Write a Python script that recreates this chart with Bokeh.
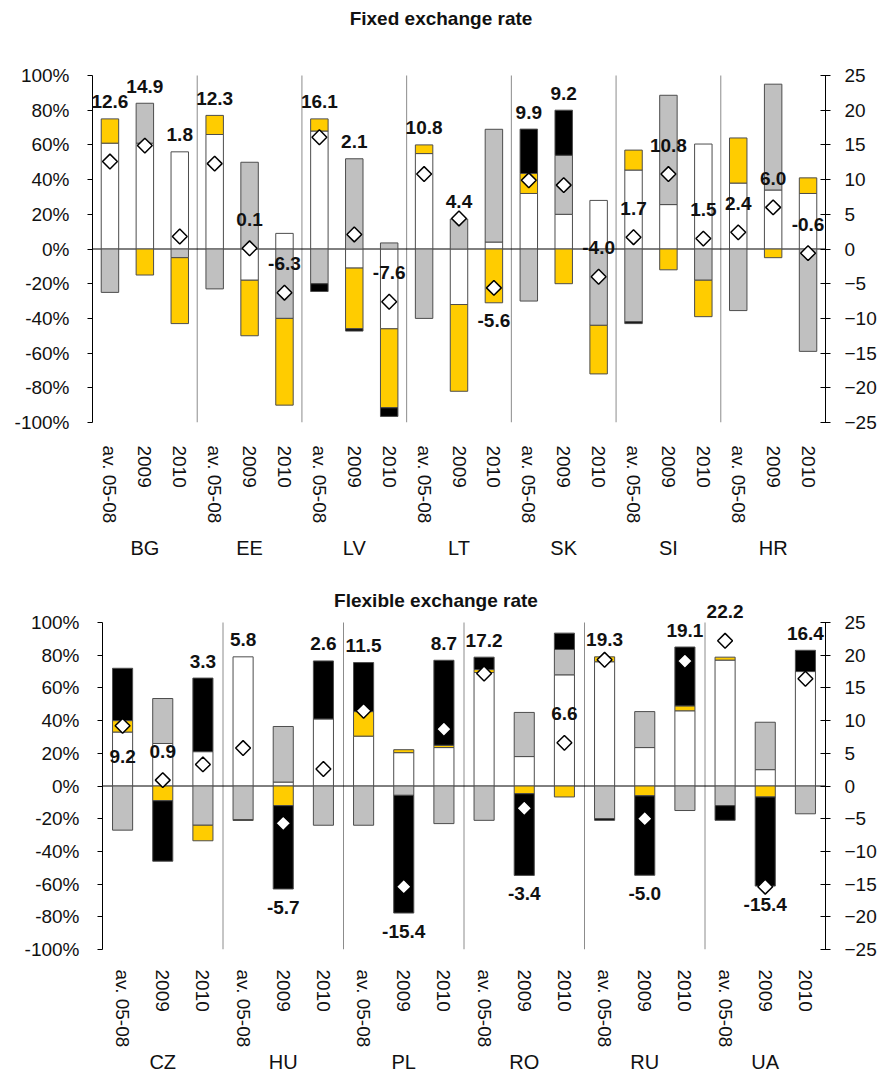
import numpy as np
from bokeh.plotting import figure
from bokeh.models import (ColumnDataSource, Range1d, LinearAxis, FixedTicker,
                          NumeralTickFormatter, Span, LabelSet, Label)
from bokeh.core.properties import value
from bokeh.layouts import column
from bokeh.embed import file_html
from bokeh.resources import INLINE

# ---------------------------------------------------------------- data
periods = ["av. 05-08", "2009", "2010"]

# Fixed exchange rate regimes (contributions in % of the total, stacked)
fixed_countries = ["BG", "EE", "LV", "LT", "SK", "SI", "HR"]
fixed_white = [61, 61, 56, 66, -18, 9, 68, -11, -46, 55, -32, 4, 32, 20, 28,
               45.5, 25.6, 60.5, 38, 34, 32]
fixed_grey = [-25, 23, -5, -23, 50, -40, -20, 52, 3.5, -40, 17.3, 65, -30, 34, -44,
              -42, 63, -18, -35.5, 61, -59]
fixed_yellow = [14, -15, -38, 11, -32, -50, 7, -35, -45.5, 5, -50, -31, 11.5, -20, -28,
                11.5, -12, -21, 26, -5, 9]
fixed_black = [0, 0, 0, 0, 0, 0, -4.5, -1.3, -5, 0, 0, 0, 25.6, 26, 0,
               -1, 0, 0, 0, 0, 0]
fixed_balance = [12.6, 14.9, 1.8, 12.3, 0.1, -6.3, 16.1, 2.1, -7.6, 10.8, 4.4, -5.6,
                 9.9, 9.2, -4.0, 1.7, 10.8, 1.5, 2.4, 6.0, -0.6]
fixed_label_at = ["top", "top", "top", "top", "dia", "dia", "top", "top", "dia",
                  "top", "top", "bottom", "top", "top", "dia", "dia", "dia", "dia",
                  "dia", "dia", "dia"]

# Flexible exchange rate regimes
flex_countries = ["CZ", "HU", "PL", "RO", "RU", "UA"]
flex_white = [33, 26, 21, 79, 2.4, 41, 30.5, 20.4, 23.5, 69.4, 18, 68, 76, 23.5, 46,
              77, 10, 70]
flex_grey = [-27, 27.5, -24, -20.5, 34, -24, -24, -5.7, -23, -21, 27, 15.5, -20, 22, -15,
             -12, 29, -17]
flex_yellow = [7, -9, -9.5, -0.6, -12, 0, 15, 1.8, 1.4, 1.8, -4.7, -6.7, 3, -6, 3,
               1.8, -6.7, 0]
flex_black = [32, -37, 45, 0, -51, 35.5, 30, -72, 52, 7.6, -50, 10, -1, -48.6, 36,
              -9, -54.5, 13]
flex_balance = [9.2, 0.9, 3.3, 5.8, -5.7, 2.6, 11.5, -15.4, 8.7, 17.2, -3.4, 6.6,
                19.3, -5.0, 19.1, 22.2, -15.4, 16.4]
flex_label_at = ["dia_below", "dia", "top", "top", "bottom", "top", "top", "bottom", "top",
                 "top", "bottom", "dia", "top", "bottom", "top", "dia", "bottom", "top"]

# ---------------------------------------------------------------- styling
FONT = "Liberation Sans"
TEXT = "#111111"
SERIES_COLORS = ["#FFFFFF", "#C0C0C0", "#FFCC00", "#000000"]
# pixel shift of a value label from its anchor (positive = up)
LABEL_SHIFT = {"top": 17, "bottom": -18, "dia": 29, "dia_below": -31}


def style_ticks(axis):
    axis.minor_tick_line_color = None
    axis.axis_line_color = "black"
    axis.major_tick_line_color = "black"
    axis.major_label_text_font = FONT
    axis.major_label_text_font_size = "19px"
    axis.major_label_text_color = TEXT


def panel(title, countries, parts, balance, label_at, plot_w, plot_h, headroom, borders,
          title_shift, period_standoff, country_standoff):
    n = len(countries) * len(periods)
    centers = np.arange(n) + 0.5
    group_centers = np.arange(len(countries)) * 3 + 1.5
    left, right, top, bottom = borders
    # the frame reaches above 100% so that the heading and high labels fit inside it
    y_top = 1 + 2.0 * headroom / plot_h

    p = figure(frame_width=plot_w, frame_height=plot_h + headroom,
               x_range=Range1d(0, n), y_range=Range1d(-1, y_top),
               output_backend="svg", toolbar_location=None,
               min_border_left=left, min_border_right=right,
               min_border_top=top, min_border_bottom=bottom)
    p.frame_align = False
    p.outline_line_color = None
    p.xgrid.grid_line_color = None
    p.ygrid.grid_line_color = None
    p.background_fill_color = "white"
    p.border_fill_color = "white"

    # group separators and zero line
    seps = [3.0 * k for k in range(1, len(countries))]
    p.segment(x0=seps, x1=seps, y0=[-1] * len(seps), y1=[1] * len(seps),
              line_color="#8c8c8c", line_width=1, level="underlay")
    p.add_layout(Span(location=0, dimension="width", line_color="black",
                      line_width=1, level="underlay"))

    # stacked bars: positives build upward, negatives downward, same series order
    pos = np.zeros(n)
    neg = np.zeros(n)
    for vals, color in zip(parts, SERIES_COLORS):
        v = np.asarray(vals, dtype=float) / 100.0
        base = np.where(v >= 0, pos, neg)
        end = base + v
        pos = np.where(v >= 0, end, pos)
        neg = np.where(v < 0, end, neg)
        keep = v != 0
        src = ColumnDataSource(dict(x=centers[keep], bottom=base[keep], top=end[keep]))
        p.vbar(x="x", bottom="bottom", top="top", width=0.5, source=src,
               fill_color=color, line_color="#4d4d4d", line_width=1)

    # balance (right axis) diamonds
    p.extra_y_ranges = {"bal": Range1d(-25, 25 * y_top)}
    dsrc = ColumnDataSource(dict(x=centers, y=balance))
    p.scatter(x="x", y="y", source=dsrc, y_range_name="bal", marker="square",
              angle=np.pi / 4, size=10.5, fill_color="white", line_color="black",
              line_width=1.5)

    # value labels
    bal_frac = np.asarray(balance) / 25.0
    ly, yoff = [], []
    for i, mode in enumerate(label_at):
        if mode == "top":
            ly.append(pos[i])
        elif mode == "bottom":
            ly.append(neg[i])
        else:
            ly.append(bal_frac[i])
        yoff.append(LABEL_SHIFT[mode])
    lsrc = ColumnDataSource(dict(x=centers, y=ly, yoff=yoff,
                                 txt=[f"{b:.1f}" for b in balance]))
    p.add_layout(LabelSet(x="x", y="y", text="txt", y_offset="yoff", source=lsrc,
                          text_align="center", text_baseline="middle",
                          text_font=value(FONT), text_font_size=value("19px"),
                          text_font_style="bold", text_color=TEXT))

    # panel heading
    p.add_layout(Label(x=n / 2, y=1, x_offset=title_shift[0], y_offset=title_shift[1],
                       text=title, text_align="center", text_baseline="middle",
                       text_font=FONT, text_font_size="19px", text_font_style="bold",
                       text_color=TEXT))

    # period labels (rotated) and country labels below them
    xa = p.xaxis[0]
    xa.ticker = FixedTicker(ticks=list(centers))
    xa.major_label_overrides = {float(c): periods[i % 3] for i, c in enumerate(centers)}
    xa.axis_line_color = None
    xa.major_tick_line_color = None
    xa.minor_tick_line_color = None
    xa.major_tick_out = 0
    xa.major_label_orientation = "vertical"
    xa.major_label_standoff = period_standoff
    xa.major_label_text_font = FONT
    xa.major_label_text_font_size = "19px"
    xa.major_label_text_color = TEXT

    ca = LinearAxis(ticker=FixedTicker(ticks=list(group_centers)))
    ca.major_label_overrides = {float(c): name for c, name in zip(group_centers, countries)}
    ca.axis_line_color = None
    ca.major_tick_line_color = None
    ca.minor_tick_line_color = None
    ca.major_tick_out = 0
    ca.major_tick_in = 0
    ca.major_label_standoff = country_standoff
    ca.major_label_text_font = FONT
    ca.major_label_text_font_size = "20px"
    ca.major_label_text_color = TEXT
    p.add_layout(ca, "below")

    ya = p.yaxis[0]
    ya.ticker = FixedTicker(ticks=[i / 5 for i in range(-5, 6)])
    ya.formatter = NumeralTickFormatter(format="0%")
    ya.bounds = (-1, 1)
    ya.major_tick_in = 0
    ya.major_tick_out = 5
    ya.major_label_standoff = 18
    style_ticks(ya)

    ra = LinearAxis(y_range_name="bal", ticker=FixedTicker(ticks=list(range(-25, 26, 5))))
    ra.bounds = (-25, 25)
    ra.major_tick_in = 5
    ra.major_tick_out = 5
    ra.major_label_standoff = 14
    style_ticks(ra)
    p.add_layout(ra, "right")
    return p


fixed_plot = panel("Fixed exchange rate", fixed_countries,
                   [fixed_white, fixed_grey, fixed_yellow, fixed_black],
                   fixed_balance, fixed_label_at, plot_w=733, plot_h=347, headroom=70,
                   borders=(92, 57, 5, 147), title_shift=(-18, 57),
                   period_standoff=23, country_standoff=10)
flex_plot = panel("Flexible exchange rate", flex_countries,
                  [flex_white, flex_grey, flex_yellow, flex_black],
                  flex_balance, flex_label_at, plot_w=723, plot_h=327, headroom=34,
                  borders=(102, 57, 19, 132), title_shift=(-28, 22),
                  period_standoff=20, country_standoff=0)

layout = column(fixed_plot, flex_plot, spacing=0)
open("out.html", "w").write(file_html(layout, INLINE))
